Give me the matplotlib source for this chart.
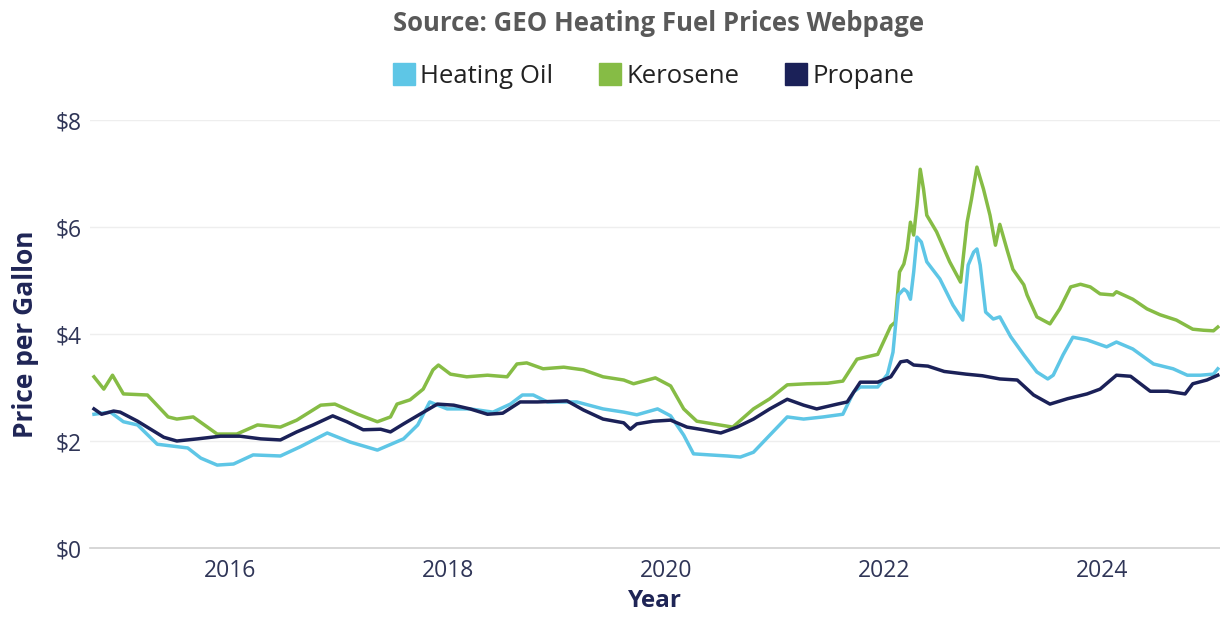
import matplotlib.pyplot as plt
from matplotlib.lines import Line2D

# heating fuel prices, $ per gallon
oil_years = [2014.75, 2014.90, 2015.02, 2015.15, 2015.33, 2015.61, 2015.73, 2015.88, 2016.03, 2016.21,
             2016.46, 2016.64, 2016.89, 2017.10, 2017.35, 2017.59, 2017.72, 2017.83, 2017.99, 2018.20,
             2018.41, 2018.57, 2018.68, 2018.78, 2018.91, 2019.18, 2019.42, 2019.61, 2019.73, 2019.92,
             2020.04, 2020.16, 2020.25, 2020.40, 2020.56, 2020.68, 2020.80, 2020.95, 2021.11, 2021.26,
             2021.44, 2021.62, 2021.72, 2021.78, 2021.94, 2022.03, 2022.08, 2022.10, 2022.13, 2022.18,
             2022.21, 2022.24, 2022.27, 2022.30, 2022.34, 2022.39, 2022.51, 2022.63, 2022.72, 2022.77,
             2022.82, 2022.85, 2022.88, 2022.93, 2023.00, 2023.06, 2023.16, 2023.28, 2023.40, 2023.50,
             2023.55, 2023.64, 2023.73, 2023.86, 2024.04, 2024.13, 2024.28, 2024.47, 2024.65, 2024.78,
             2024.90, 2025.02, 2025.06]
oil_price = [2.50, 2.54, 2.36, 2.30, 1.94, 1.87, 1.68, 1.55, 1.57, 1.74,
             1.72, 1.89, 2.15, 1.98, 1.83, 2.04, 2.30, 2.73, 2.60, 2.60,
             2.54, 2.69, 2.86, 2.86, 2.73, 2.73, 2.60, 2.54, 2.49, 2.60,
             2.47, 2.11, 1.76, 1.74, 1.72, 1.70, 1.79, 2.11, 2.45, 2.41,
             2.45, 2.50, 2.92, 3.01, 3.01, 3.25, 3.66, 4.09, 4.73, 4.84,
             4.79, 4.65, 5.16, 5.81, 5.72, 5.35, 5.03, 4.54, 4.26, 5.29,
             5.53, 5.59, 5.29, 4.41, 4.28, 4.32, 3.95, 3.61, 3.29, 3.16,
             3.23, 3.61, 3.94, 3.89, 3.76, 3.85, 3.72, 3.44, 3.35, 3.23,
             3.23, 3.25, 3.35]

kero_years = [2014.75, 2014.84, 2014.92, 2015.02, 2015.24, 2015.43, 2015.51, 2015.66, 2015.88, 2016.06,
              2016.25, 2016.46, 2016.61, 2016.83, 2016.96, 2017.17, 2017.35, 2017.47, 2017.53, 2017.65,
              2017.77, 2017.86, 2017.91, 2018.02, 2018.17, 2018.36, 2018.54, 2018.63, 2018.72, 2018.87,
              2019.06, 2019.24, 2019.42, 2019.61, 2019.70, 2019.90, 2020.04, 2020.16, 2020.28, 2020.43,
              2020.61, 2020.80, 2020.95, 2021.11, 2021.29, 2021.48, 2021.62, 2021.75, 2021.94, 2022.06,
              2022.10, 2022.14, 2022.18, 2022.21, 2022.24, 2022.27, 2022.30, 2022.33, 2022.36, 2022.39,
              2022.48, 2022.60, 2022.70, 2022.76, 2022.80, 2022.85, 2022.91, 2022.97, 2023.02, 2023.06,
              2023.13, 2023.18, 2023.28, 2023.31, 2023.40, 2023.52, 2023.61, 2023.71, 2023.80, 2023.89,
              2023.98, 2024.10, 2024.13, 2024.28, 2024.41, 2024.53, 2024.68, 2024.83, 2024.93, 2025.02,
              2025.06]
kero_price = [3.20, 2.97, 3.23, 2.88, 2.86, 2.45, 2.41, 2.45, 2.13, 2.13,
              2.30, 2.26, 2.39, 2.67, 2.69, 2.50, 2.36, 2.45, 2.69, 2.77,
              2.97, 3.33, 3.42, 3.25, 3.20, 3.23, 3.20, 3.44, 3.46, 3.35,
              3.38, 3.33, 3.20, 3.14, 3.07, 3.18, 3.03, 2.60, 2.37, 2.32,
              2.26, 2.60, 2.79, 3.05, 3.07, 3.08, 3.12, 3.53, 3.62, 4.15,
              4.22, 5.16, 5.31, 5.59, 6.09, 5.85, 6.41, 7.08, 6.71, 6.22,
              5.91, 5.35, 4.97, 6.09, 6.52, 7.12, 6.71, 6.22, 5.66, 6.05,
              5.55, 5.21, 4.92, 4.73, 4.32, 4.19, 4.47, 4.88, 4.93, 4.88,
              4.75, 4.73, 4.79, 4.65, 4.47, 4.36, 4.26, 4.09, 4.07, 4.06,
              4.13]

prop_years = [2014.75, 2014.82, 2014.93, 2014.99, 2015.15, 2015.27, 2015.39, 2015.51, 2015.70, 2015.91,
              2016.09, 2016.28, 2016.46, 2016.61, 2016.76, 2016.94, 2017.07, 2017.22, 2017.38, 2017.47,
              2017.59, 2017.74, 2017.90, 2018.05, 2018.20, 2018.36, 2018.50, 2018.66, 2018.82, 2019.09,
              2019.24, 2019.42, 2019.61, 2019.67, 2019.73, 2019.88, 2020.04, 2020.19, 2020.34, 2020.50,
              2020.65, 2020.80, 2020.95, 2021.11, 2021.26, 2021.38, 2021.57, 2021.66, 2021.78, 2021.94,
              2022.06, 2022.15, 2022.21, 2022.27, 2022.40, 2022.55, 2022.75, 2022.90, 2023.06, 2023.22,
              2023.37, 2023.52, 2023.68, 2023.86, 2023.98, 2024.13, 2024.26, 2024.44, 2024.60, 2024.76,
              2024.83, 2024.96, 2025.06]
prop_price = [2.60, 2.50, 2.56, 2.54, 2.37, 2.22, 2.07, 2.00, 2.04, 2.09,
              2.09, 2.04, 2.02, 2.17, 2.30, 2.47, 2.36, 2.21, 2.22, 2.17,
              2.32, 2.50, 2.69, 2.67, 2.60, 2.50, 2.52, 2.73, 2.73, 2.75,
              2.58, 2.41, 2.34, 2.22, 2.32, 2.37, 2.39, 2.26, 2.21, 2.15,
              2.26, 2.41, 2.60, 2.78, 2.67, 2.60, 2.69, 2.73, 3.10, 3.10,
              3.20, 3.48, 3.50, 3.42, 3.40, 3.30, 3.25, 3.22, 3.16, 3.14,
              2.86, 2.69, 2.79, 2.88, 2.97, 3.23, 3.21, 2.93, 2.93, 2.88,
              3.07, 3.14, 3.23]

series_names = ["Heating Oil", "Kerosene", "Propane"]
colors = ["#5ec6e6", "#86bc45", "#1b2158"]
y_ticks = [0, 2, 4, 6, 8]
x_ticks = [2016, 2018, 2020, 2022, 2024]

plt.rcParams['font.family'] = ['Open Sans', 'DejaVu Sans']
navy = "#1f2556"
label_col = "#2f3557"

fig = plt.figure(figsize=(12.2, 6.19), dpi=100)
ax = fig.add_axes([0.074, 0.1147, 0.926, 0.6914])

ax.plot(oil_years, oil_price, color=colors[0], lw=2.5, zorder=3)
ax.plot(kero_years, kero_price, color=colors[1], lw=2.5, zorder=2)
ax.plot(prop_years, prop_price, color=colors[2], lw=2.5, zorder=4)

ax.set_xlim(2014.716, 2025.08)
ax.set_ylim(0, 8)
ax.set_yticks(y_ticks)
ax.set_yticklabels(["$%d" % v for v in y_ticks])
ax.set_xticks(x_ticks)
ax.set_xticklabels([str(v) for v in x_ticks])
ax.tick_params(length=0, labelsize=16.5, colors=label_col)
ax.tick_params(axis='x', pad=8)
ax.tick_params(axis='y', pad=6)
ax.grid(axis='y', color="#eeeeee", lw=1)
ax.set_axisbelow(True)
for s in ['top', 'right', 'left']:
    ax.spines[s].set_visible(False)
ax.spines['bottom'].set_color("#d0d0d0")
ax.spines['bottom'].set_linewidth(1.2)

ax.set_xlabel("Year", fontsize=17.5, fontweight='bold', color=navy, labelpad=4)
ax.set_ylabel("Price per Gallon", fontsize=19, fontweight='bold', color=navy, labelpad=12)

fig.text(0.54, 0.962, "Source: GEO Heating Fuel Prices Webpage", ha='center', va='center',
         fontsize=18.5, fontweight='bold', color="#595959")

handles = [Line2D([], [], marker='s', ls='none', markersize=16, color=c) for c in colors]
fig.legend(handles, series_names, loc='center', bbox_to_anchor=(0.535, 0.876), ncol=3,
           frameon=False, fontsize=18.5, handletextpad=0.15, columnspacing=1.7, handlelength=1.0,
           labelcolor="#222222")

fig.savefig("out.png", dpi=100)
